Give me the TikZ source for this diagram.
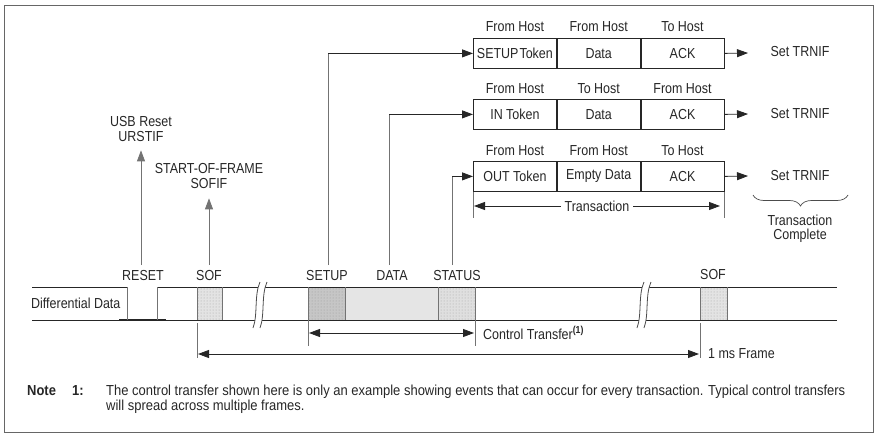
\documentclass[tikz,border=0pt]{standalone}
\usepackage{fontspec}
\setmainfont{Liberation Sans}[FakeStretch=0.86]
\newfontfamily\notefont{Liberation Sans}[FakeStretch=0.895]
\usetikzlibrary{arrows.meta,patterns,decorations.pathreplacing,calc}
\begin{document}
\begin{tikzpicture}[x=1pt,y=-1pt,
  every node/.style={font=\fontsize{14.5}{16.5}\selectfont, inner sep=0pt, text=black!85},
  ln/.style={line width=0.8pt, draw=black!85},
  vln/.style={line width=0.8pt, draw=black!55},
  tip/.style={-{Triangle[length=11pt,width=8pt]}},
  dtip/.style={{Triangle[length=11pt,width=8pt]}-{Triangle[length=11pt,width=8pt]}},
  cell/.style={draw=black!85, line width=0.8pt, minimum width=83pt, minimum height=30pt, anchor=north west},
  hdr/.style={anchor=center},
  notestyle/.style={anchor=base west, font=\fontsize{14.5}{16.5}\notefont},
]
\useasboundingbox (0,0) rectangle (883,442);
\draw[black!60, line width=0.9pt] (4,5) rectangle (873,432);

% ---------- transaction rows ----------
\node[cell] (a1) at (473,38) {SETUP\kern1pt Token};
\node[cell] (a2) at (a1.north east) {Data};
\node[cell] (a3) at (a2.north east) {ACK};
\node[cell] (b1) at (473,99) {IN Token};
\node[cell] (b2) at (b1.north east) {Data};
\node[cell] (b3) at (b2.north east) {ACK};
\node[cell] (c1) at (473,161) {OUT Token};
\node[cell] (c2) at (c1.north east) {Empty Data};
\node[cell] (c3) at (c2.north east) {ACK};

\node[hdr] (ha1) at ($(a1.north)+(0,-11)$) {From Host};
\node[hdr] (ha2) at ($(a2.north)+(0,-11)$) {From Host};
\node[hdr] (ha3) at ($(a3.north)+(0,-11)$) {To Host};
\node[hdr] (hb1) at ($(b1.north)+(0,-10)$) {From Host};
\node[hdr] (hb2) at ($(b2.north)+(0,-10)$) {To Host};
\node[hdr] (hb3) at ($(b3.north)+(0,-10)$) {From Host};
\node[hdr] (hc1) at ($(c1.north)+(0,-10)$) {From Host};
\node[hdr] (hc2) at ($(c2.north)+(0,-10)$) {From Host};
\node[hdr] (hc3) at ($(c3.north)+(0,-10)$) {To Host};

\node (s1) at (800,52) {Set TRNIF};
\node (s2) at (800,114) {Set TRNIF};
\node (s3) at (800,176) {Set TRNIF};
\coordinate (e1) at (748,53);
\coordinate (e2) at (748,114);
\coordinate (e3) at (748,176);
\draw[ln,tip] (a3.east) -- (e1);
\draw[ln,tip] (b3.east) -- (e2);
\draw[ln,tip] (c3.east) -- (e3);

% transaction dimension
\draw[vln] (c1.south west) -- ++(0,26);
\draw[vln] (c3.south east) -- ++(0,26);
\coordinate (tl) at (474,206);
\coordinate (tr) at (720,206);
\draw[ln,dtip] (tl) -- node[fill=white, inner xsep=4pt, inner ysep=1pt] (trans) {Transaction} (tr);

% brace
\coordinate (bl) at (753,195);
\coordinate (br) at (848,195);
\draw[black!70, line width=0.7pt, decorate, decoration={brace, amplitude=11pt, mirror}] (bl) -- (br);
\node[align=center, font=\fontsize{14.5}{14}\selectfont] (tc) at (800,229) {Transaction\\Complete};

% ---------- signal labels ----------
\node (lreset) at (143,276) {RESET};
\node (lsof) at (209,276) {SOF};
\node (lsetup) at (327,276) {SETUP};
\node (ldata) at (392,276) {DATA};
\node (lstatus) at (457,276) {STATUS};
\node (lsof2) at (713,275) {SOF};

\node[align=center, font=\fontsize{14.5}{15}\selectfont] (usb) at (141,129.5) {USB Reset\\URSTIF};
\node[align=center, font=\fontsize{14.5}{15}\selectfont] (sofif) at (209,176.5) {START-OF-FRAME\\SOFIF};

\coordinate (r0) at (141,265);
\coordinate (f0) at (209,265);
\coordinate (su0) at (328,265);
\coordinate (da0) at (389,265);
\coordinate (st0) at (452,265);
\draw[vln,tip] (r0) -- ($(usb.south)+(0,8)$);
\draw[vln,tip] (f0) -- ($(sofif.south)+(0,9)$);
\draw[vln] (su0) -- (su0 |- a1.west);
\draw[ln,tip] (su0 |- a1.west) -- (a1.west);
\draw[vln] (da0) -- (da0 |- b1.west);
\draw[ln,tip] (da0 |- b1.west) -- (b1.west);
\draw[vln] (st0) -- (st0 |- c1.west);
\draw[ln,tip] (st0 |- c1.west) -- (c1.west);

% ---------- differential data ----------
\node[anchor=west] (dd) at (31,303) {Differential Data};

\fill[gray!22] (197,287) rectangle (222,320);
\fill[pattern=dots, pattern color=gray!70] (197,287) rectangle (222,320);
\fill[gray!45] (308,287) rectangle (345,320);
\fill[pattern=dots, pattern color=gray!80] (308,287) rectangle (345,320);
\fill[gray!20] (345,287) rectangle (438,320);
\fill[gray!25] (438,287) rectangle (475,320);
\fill[pattern=dots, pattern color=gray!70] (438,287) rectangle (475,320);
\fill[gray!22] (700,287) rectangle (727,320);
\fill[pattern=dots, pattern color=gray!70] (700,287) rectangle (727,320);

\draw[ln] (32,287) -- (127,287);
\draw[ln] (157,287) -- (837,287);
\draw[ln] (32,320) -- (837,320);
\draw[ln, line width=1.1pt] (119,320) -- (166,320);
\draw[vln] (127,287) -- (127,320);
\draw[vln] (157,287) -- (157,320);
\foreach \x in {197,222,308,345,438,475,700,727} \draw[vln] (\x,287) -- (\x,320);

% breaks
\foreach \bx in {259,643} {
  \fill[white] ($( \bx,282)+(1,0)$) .. controls ($( \bx,295)+(-5,0)$) and ($( \bx,315)+(-1,0)$) .. ($( \bx,328)+(-6,0)$)
     -- ($( \bx,328)+(1,0)$) .. controls ($( \bx,315)+(6,0)$) and ($( \bx,295)+(2,0)$) .. ($( \bx,282)+(8,0)$) -- cycle;
  \draw[black!70, line width=0.8pt] ($( \bx,282)+(1,0)$) .. controls ($( \bx,295)+(-5,0)$) and ($( \bx,315)+(-1,0)$) .. ($( \bx,328)+(-6,0)$);
  \draw[black!70, line width=0.8pt] ($( \bx,282)+(8,0)$) .. controls ($( \bx,295)+(2,0)$) and ($( \bx,315)+(6,0)$) .. ($( \bx,328)+(1,0)$);
}

% control transfer
\draw[vln] (308,320) -- (308,346);
\draw[vln] (475,320) -- (475,346);
\coordinate (cl) at (309,333);
\coordinate (cr) at (474,333);
\draw[ln,dtip] (cl) -- (cr);
\node[anchor=west] (ct) at (483,333) {Control Transfer\textsuperscript{\bfseries(1)}};

% 1 ms frame
\draw[vln] (197,323) -- (197,358);
\draw[vln] (700,323) -- (700,358);
\coordinate (fl) at (198,354);
\coordinate (fr) at (699,354);
\draw[ln,dtip] (fl) -- (fr);
\node[anchor=west] (ms) at (708,354) {1 ms Frame};

% note
\node[notestyle, font=\fontsize{14.5}{16.5}\notefont\bfseries] (note) at (27,395) {Note};
\node[notestyle, font=\fontsize{14.5}{16.5}\notefont\bfseries] (n1) at (72,395) {1:};
\node[notestyle] (nt1) at (106,395) {The control transfer shown here is only an example showing events that can occur for every transaction. Typical control transfers};
\node[notestyle] (nt2) at (106,410) {will spread across multiple frames.};
\end{tikzpicture}
\end{document}
